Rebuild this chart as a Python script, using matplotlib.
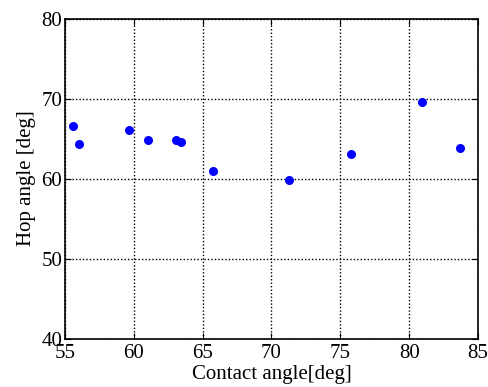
import matplotlib
matplotlib.use("Agg")
import matplotlib.pyplot as plt

contact_angle = [55.6, 56.04, 59.63, 61.0, 63.1, 63.45, 65.77, 71.27, 75.77, 80.95, 83.7]
hop_angle = [66.6, 64.3, 66.1, 64.8, 64.8, 64.55, 61.0, 59.8, 63.1, 69.55, 63.8]

plt.rcParams['font.family'] = ['Liberation Serif', 'DejaVu Serif']
plt.rcParams['font.size'] = 15

fig = plt.figure(figsize=(4.88, 3.87), dpi=100)
ax = fig.add_axes([0.133, 0.125, 0.8465, 0.827])
ax.plot(contact_angle, hop_angle, 'o', color='#0000ff', markersize=6.5, markeredgewidth=0)
ax.set_xlim(55, 85)
ax.set_ylim(40, 80)
ax.set_xticks(range(55, 86, 5))
ax.set_yticks(range(40, 81, 10))
ax.grid(True, color='black', linestyle=(0, (1, 1.5)), linewidth=1)
ax.tick_params(direction='in', top=True, right=True, length=4)
ax.tick_params(axis='x', pad=4)
ax.tick_params(axis='y', pad=2)
for s in ax.spines.values():
    s.set_linewidth(1.2)
ax.set_xlabel("Contact angle[deg]", labelpad=1)
ax.set_ylabel("Hop angle [deg]", labelpad=4)
fig.savefig('out.png', dpi=100)
